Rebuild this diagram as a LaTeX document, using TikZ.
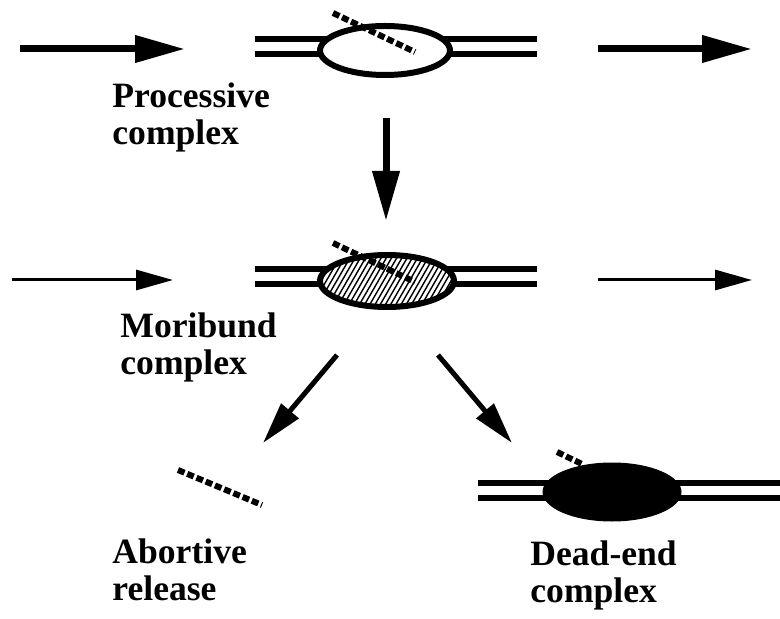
\documentclass[tikz,border=0pt]{standalone}
\usepackage{fontspec}
\setmainfont{Liberation Serif}
\usetikzlibrary{arrows.meta,shapes.geometric}
\tikzset{
  duplex/.style={double,double distance=4.5pt,line width=3pt},
  bubble/.style={ellipse,inner sep=0pt,line width=3pt},
  rna/.style={line width=3pt,dash pattern=on 3.5pt off 1.5pt},
  fatarrow/.style={line width=3.5pt,-{Triangle[length=25pt,width=13pt]}},
  thinarrow/.style={line width=1.5pt,-{Triangle[length=18.5pt,width=10pt]}},
  slantarrow/.style={line width=2.5pt,-{Triangle[length=21pt,width=11pt]}},
  hatched/.style={path picture={\foreach \k in {0,...,40}
      \draw[line width=0.7pt] ([xshift={\k*2.6pt-20pt}]path picture bounding box.south west) -- ++(60:40pt);}},
  lbl/.style={font=\fontsize{17.8}{18.5}\selectfont\bfseries,align=left,inner sep=0pt,anchor=base west}
}
\begin{document}
\begin{tikzpicture}[x=0.5pt,y=-0.5pt,line join=round]
 \useasboundingbox (0,0) rectangle (780,619);
 % processive row
 \coordinate (pa1) at (20,49);  \coordinate (pa2) at (185,49);
 \coordinate (pb1) at (598,49); \coordinate (pb2) at (752,49);
 \coordinate (pd1) at (255,47); \coordinate (pd2) at (537,47);
 \coordinate (pr1) at (333,13); \coordinate (pr2) at (415,52);
 \draw[fatarrow] (pa1) -- (pa2); \draw[fatarrow] (pb1) -- (pb2);
 \draw[duplex] (pd1) -- (pd2);
 \node[bubble,draw,fill=white,minimum width=65pt,minimum height=24.5pt] (proc) at (385,50.5) {};
 \draw[rna] (pr1) -- (pr2);
 \node[lbl] (proclbl) at (112,145) {Processive\\complex};
 % down to moribund
 \coordinate (dn1) at (386,118); \coordinate (dn2) at (386,221);
 \draw[fatarrow] (dn1) -- (dn2);
 % moribund row
 \coordinate (ma1) at (12,280);  \coordinate (ma2) at (173,280);
 \coordinate (mb1) at (598,280); \coordinate (mb2) at (752,280);
 \coordinate (md1) at (255,277); \coordinate (md2) at (537,277);
 \coordinate (mr1) at (333,243); \coordinate (mr2) at (415,282);
 \draw[thinarrow] (ma1) -- (ma2); \draw[thinarrow] (mb1) -- (mb2);
 \draw[duplex] (md1) -- (md2);
 \node[bubble,draw,fill=white,hatched,minimum width=67pt,minimum height=26pt] (mori) at (387,281) {};
 \draw[rna] (mr1) -- (mr2);
 \node[lbl] (morilbl) at (120,375) {Moribund\\complex};
 % branches
 \coordinate (sl1) at (337,355); \coordinate (sl2) at (263,443);
 \coordinate (sr1) at (438,355); \coordinate (sr2) at (512,443);
 \draw[slantarrow] (sl1) -- (sl2); \draw[slantarrow] (sr1) -- (sr2);
 % abortive release
 \coordinate (ar1) at (178,470); \coordinate (ar2) at (262,505);
 \draw[rna] (ar1) -- (ar2);
 \node[lbl] (abolbl) at (112,600) {Abortive\\release};
 % dead-end complex
 \coordinate (dd1) at (478,490); \coordinate (dd2) at (780,490);
 \coordinate (dr1) at (557,452); \coordinate (dr2) at (582,464);
 \draw[duplex] (dd1) -- (dd2);
 \node[bubble,fill=black,minimum width=69.5pt,minimum height=29.5pt] (dead) at (612,492) {};
 \draw[rna] (dr1) -- (dr2);
 \node[lbl] (deadlbl) at (530,602) {Dead-end\\complex};
\end{tikzpicture}
\end{document}
